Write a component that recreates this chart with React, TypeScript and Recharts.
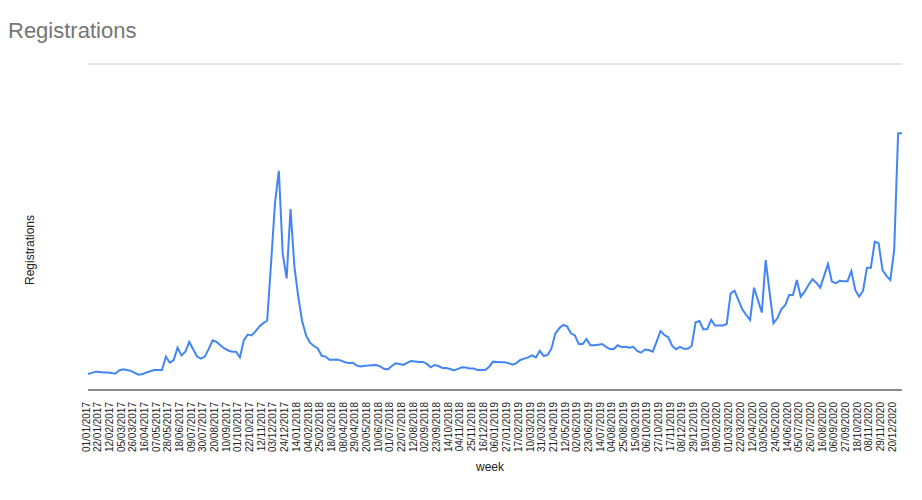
import { LineChart, Line, XAxis, YAxis, CartesianGrid } from 'recharts';

// weekly registrations (gridlines at 100 / 200 / 300 / 400)
const VALUES_2017 = [
  19.6, 21, 22.5, 22, 21.5, 21.5, 21, 20, 24, 25.3,
  24.5, 23.5, 21, 18.8, 19.5, 21.5, 23, 24.5, 24.5, 24.5,
  41, 33.5, 36.8, 52, 42.5, 47, 59, 50, 41, 38.5,
  41, 50.5, 61, 59, 55, 51, 48.5, 47, 47, 40,
  61, 68, 67, 72, 78, 82, 85, 155, 229, 269,
  167, 137, 222,
];
const VALUES_2018 = [
  151, 114, 84, 67, 58, 54, 51,
  42, 41, 37, 37, 37.5, 36, 34, 33, 33.5, 30,
  29, 29.8, 30, 30.5, 30.7, 29, 26, 25.3, 29.4, 32.7,
  32, 30.7, 33.5, 35.6, 35, 34.4, 34.4, 32, 27.8, 30.7,
  29.4, 27, 27, 25.7, 24.1, 26, 27.8, 27.5, 26.5, 26.5,
  24.5, 24.5, 24.5, 28.6, 34.8,
];
const VALUES_2019 = [
  34.4, 34, 34, 33, 31,
  33, 36.8, 38.5, 40, 42.5, 40, 48, 41.7, 43, 51,
  69.5, 75.7, 79.8, 78, 69.5, 67, 56.4, 56.4, 62.5, 54.8,
  54.8, 55.6, 56.4, 53, 50.3, 50.3, 55, 52.5, 53, 52,
  53, 48, 45.8, 49.7, 49, 47, 59.3, 72.4, 67.5, 64.7,
  54, 50, 53, 50.5, 50.5, 54, 83,
];
const VALUES_2020 = [
  84.6, 74.4, 74.8,
  86, 79, 79, 79, 81, 118.6, 121.8, 110.4, 99, 92,
  86, 125.5, 110.4, 95, 159.5, 120, 82, 88, 99, 104,
  116.5, 116.5, 135, 114.5, 120.6, 128.8, 136, 131.7, 125.5, 140,
  154.6, 133, 131, 134, 133.4, 133.4, 146, 122.7, 114.5, 121.8,
  150, 150, 182, 180, 147, 140, 135, 172, 315,
];
const VALUES_2021 = [315];

const Y_TICKS = [0, 100, 200, 300, 400];
const FIRST_WEEK = Date.UTC(2017, 0, 1);

const values = [...VALUES_2017, ...VALUES_2018, ...VALUES_2019, ...VALUES_2020, ...VALUES_2021];

const pad = (n: number) => String(n).padStart(2, '0');
const weekLabel = (i: number) => {
  const d = new Date(FIRST_WEEK + i * 7 * 86400000);
  return `${pad(d.getUTCDate())}/${pad(d.getUTCMonth() + 1)}/${d.getUTCFullYear()}`;
};

const data = values.map((v, i) => ({ week: weekLabel(i), registrations: v }));

const FONT = "Arial, 'Liberation Sans', sans-serif";

const WeekTick = (props: any) => {
  const { x, y, payload } = props;
  return (
    <text
      x={x - 2}
      y={y + 4}
      transform={`rotate(-90 ${x - 2} ${y + 4})`}
      textAnchor="end"
      dominantBaseline="central"
      fontSize={10}
      fontFamily={FONT}
      fill="#222"
    >
      {payload.value}
    </text>
  );
};

export default function App() {
  return (
    <div style={{ position: 'absolute', left: 0, top: 0, width: 922, height: 500, background: '#fff' }}>
      <LineChart width={922} height={500} data={data} margin={{ top: 64, right: 20, bottom: 0, left: 0 }}>
        <text x={8} y={38} fontSize={22} fontFamily={FONT} fill="#757575">Registrations</text>
        <CartesianGrid vertical={false} stroke="#cccccc" />
        <XAxis
          dataKey="week"
          interval={2}
          height={110}
          tickLine={false}
          axisLine={{ stroke: '#333' }}
          tick={<WeekTick />}
          label={{
            content: () => (
              <text x={490} y={471} textAnchor="middle" fontSize={12} fontFamily={FONT} fill="#222">week</text>
            ),
          }}
        />
        <YAxis
          width={88}
          domain={[0, 400]}
          ticks={Y_TICKS}
          tick={false}
          tickLine={false}
          axisLine={false}
          label={{
            content: () => (
              <text
                x={30}
                y={250}
                transform="rotate(-90 30 250)"
                textAnchor="middle"
                dominantBaseline="central"
                fontSize={12}
                fontFamily={FONT}
                fill="#222"
              >
                Registrations
              </text>
            ),
          }}
        />
        <Line
          type="linear"
          dataKey="registrations"
          stroke="#4285f4"
          strokeWidth={2}
          dot={false}
          isAnimationActive={false}
        />
      </LineChart>
    </div>
  );
}
